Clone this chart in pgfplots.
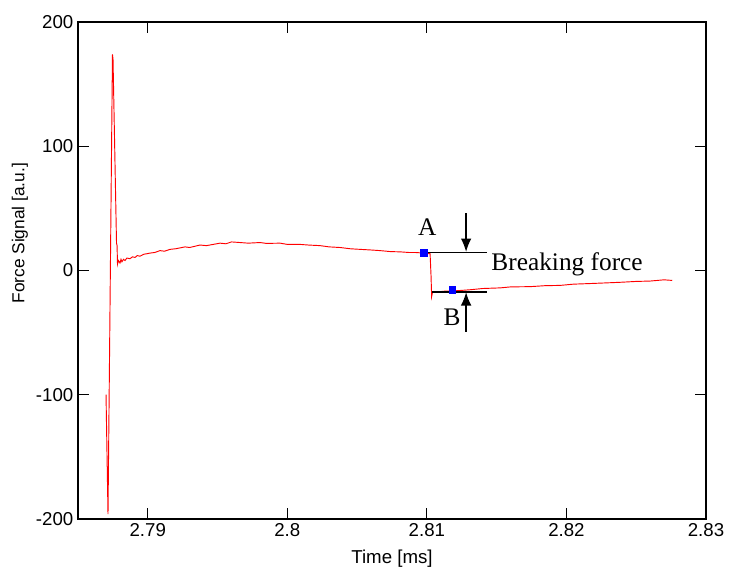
\documentclass[border=0pt]{standalone}
\usepackage{pgfplots}
\pgfplotsset{compat=1.18}
\usepackage{fontspec}
\setmainfont{Liberation Sans}
\newfontfamily\timesfont{Liberation Serif}
\usetikzlibrary{arrows.meta}
\begin{document}
\begin{tikzpicture}
\useasboundingbox (-58.5pt,-40.5pt) rectangle (488.25pt,389.25pt);
\begin{axis}[
  scale only axis,
  width=471pt, height=372.75pt,
  xmin=2.785, xmax=2.83, ymin=-200, ymax=200,
  xtick={2.79,2.8,2.81,2.82,2.83},
  ytick={-200,-100,0,100,200},
  scaled x ticks=false,
  xticklabel style={/pgf/number format/fixed, /pgf/number format/precision=2},
  /pgf/number format/assume math mode=true,
  tick label style={font=\fontsize{14}{16}\selectfont},
  tick align=inside,
  major tick length=8pt,
  axis line style={line width=1pt},
  every tick/.style={black, line width=0.9pt},
  xlabel={Time [ms]},
  ylabel={Force Signal [a.u.]},
  xlabel style={font=\fontsize{14}{16}\selectfont, at={(axis description cs:0.5,-0.0805)}, anchor=center},
  ylabel style={font=\fontsize{13}{15}\selectfont, at={(axis description cs:-0.0924,0.575)}, rotate=0, anchor=center},
  clip=false,
]
\addplot[red, line width=0.7pt] coordinates {
(2.78701,-100) (2.78703,-115) (2.78715,-196) (2.78747,174) (2.78751,170)
(2.78776,22) (2.78780,20) (2.78783,5) (2.78790,8) (2.78801,6) (2.78808,9)
(2.78815,7) (2.78826,9) (2.78837,8) (2.78850,10) (2.78873,9.5) (2.78890,11)
(2.78909,10.5) (2.78925,12) (2.78944,11.5) (2.78970,13) (2.79016,14)
(2.79050,14.5) (2.79088,16) (2.79120,15.5) (2.79160,17) (2.79200,17.5)
(2.79267,19) (2.79300,18.5) (2.79375,20.5) (2.79420,20) (2.79518,22)
(2.79560,21.5) (2.79600,23) (2.79661,22.5) (2.79720,22) (2.79805,22.5)
(2.79850,21.8) (2.79948,22) (2.80000,21) (2.80091,21) (2.80150,20.5)
(2.80235,20) (2.80300,19) (2.80378,18.5) (2.80450,17.5) (2.80522,17)
(2.80600,16.5) (2.80665,16) (2.80740,15.2) (2.80808,15) (2.80870,14.5)
(2.80916,14.5) (2.80980,14) (2.81023,13.5) (2.81030,-5) (2.81034,-21)
(2.81041,-17) (2.81095,-17) (2.81140,-16.5) (2.81181,-16.5) (2.81250,-16)
(2.81310,-15.5) (2.81400,-14.5) (2.81525,-14) (2.81600,-13.2) (2.81740,-13)
(2.81850,-12.2) (2.81955,-12) (2.82050,-11) (2.82170,-10.5) (2.82280,-10)
(2.82385,-9.5) (2.82500,-8.8) (2.82600,-8.5) (2.82700,-7.5) (2.82758,-8)
};
\addplot[blue, only marks, mark=square*, mark size=2.5pt] coordinates {(2.80980,14) (2.81181,-15.5)};
% annotation lines
\draw[black, line width=1pt] (axis cs:2.81009,14.5) -- (axis cs:2.81432,14.5);
\draw[black, line width=1pt] (axis cs:2.81038,-17.3) -- (axis cs:2.81432,-17.3);
\draw[black, line width=1pt, -{Latex[length=10pt,width=8pt]}] (axis cs:2.81281,46) -- (axis cs:2.81281,15);
\draw[black, line width=1pt, -{Latex[length=10pt,width=8pt]}] (axis cs:2.81281,-49.5) -- (axis cs:2.81281,-17.5);
\node[font=\timesfont\fontsize{19}{22}\selectfont] at (axis cs:2.81002,35) {A};
\node[font=\timesfont\fontsize{19}{22}\selectfont] at (axis cs:2.81181,-38) {B};
\node[font=\timesfont\fontsize{19}{22}\selectfont, anchor=west, inner sep=0pt] at (axis cs:2.81461,5) {Breaking force};
\end{axis}
\end{tikzpicture}
\end{document}
